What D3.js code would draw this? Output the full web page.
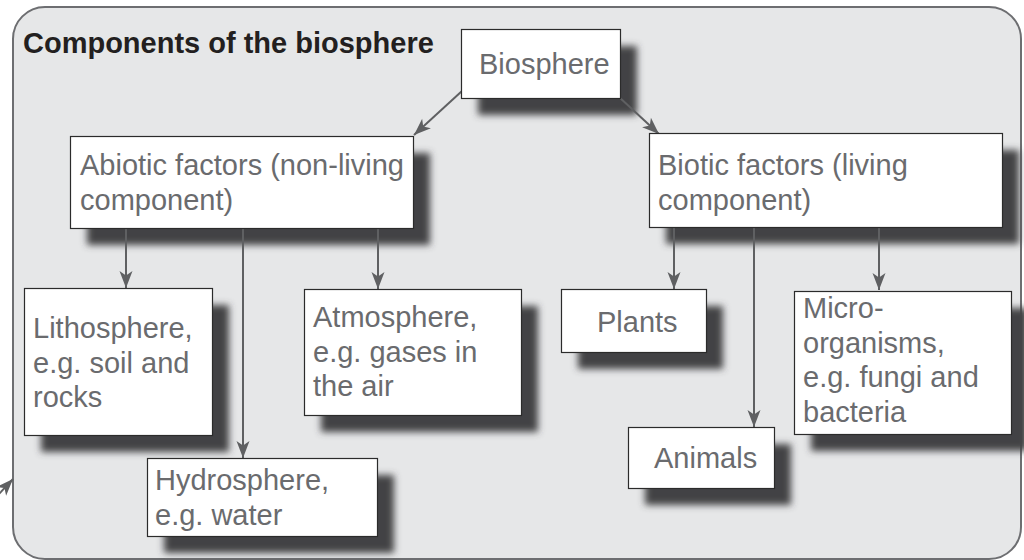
<!DOCTYPE html>
<html>
<head>
<meta charset="utf-8">
<script src="https://cdn.jsdelivr.net/npm/d3@7"></script>
<style>
  html, body { margin: 0; padding: 0; background: #ffffff; }
  svg { display: block; }
</style>
</head>
<body>
<svg id="chart" width="1024" height="560"></svg>
<script>
// ---- content ----
const title = "Components of the biosphere";
const nodeIds = ["biosphere", "abiotic", "biotic", "litho", "hydro", "atmos", "plants", "animals", "micro"];
const nodeLines = [
  ["Biosphere"],
  ["Abiotic factors (non-living", "component)"],
  ["Biotic factors (living", "component)"],
  ["Lithosphere,", "e.g. soil and", "rocks"],
  ["Hydrosphere,", "e.g. water"],
  ["Atmosphere,", "e.g. gases in", "the air"],
  ["Plants"],
  ["Animals"],
  ["Micro-", "organisms,", "e.g. fungi and", "bacteria"]
];
const edgeFrom = ["biosphere", "biosphere", "abiotic", "abiotic", "abiotic", "biotic", "biotic", "biotic"];
const edgeTo   = ["abiotic", "biotic", "litho", "hydro", "atmos", "plants", "animals", "micro"];

// ---- layout (positions only) ----
const boxLayout = {
  biosphere: {x: 461, y: 29,  w: 159, h: 69,  tx: 18, ty: 45},
  abiotic:   {x: 70,  y: 136, w: 343, h: 92,  tx: 10, ty: 39},
  biotic:    {x: 649, y: 133, w: 353, h: 94,  tx: 9,  ty: 42},
  litho:     {x: 24,  y: 288, w: 188, h: 147, tx: 9,  ty: 50},
  hydro:     {x: 147, y: 458, w: 230, h: 78,  tx: 8,  ty: 32},
  atmos:     {x: 304, y: 289, w: 217, h: 126, tx: 9,  ty: 38},
  plants:    {x: 561, y: 289, w: 145, h: 63,  tx: 36, ty: 43},
  animals:   {x: 628, y: 427, w: 146, h: 61,  tx: 26, ty: 41},
  micro:     {x: 794, y: 291, w: 217, h: 143, tx: 9,  ty: 27}
};
// arrow endpoints [x1,y1,x2,y2] per edge
const edgeLayout = [
  [462, 91, 414, 135],
  [619, 97, 659, 134],
  [126, 229, 126, 288],
  [243, 229, 243, 458],
  [378, 229, 378, 289],
  [674, 228, 674, 289],
  [754, 228, 754, 427],
  [879, 228, 879, 290]
];
const lineHeight = 34.5;

const svg = d3.select("#chart");
const defs = svg.append("defs");

const blur = defs.append("filter").attr("id", "shadowBlur")
  .attr("x", "-30%").attr("y", "-30%").attr("width", "160%").attr("height", "160%");
blur.append("feGaussianBlur").attr("stdDeviation", 3.5);

defs.append("marker")
  .attr("id", "arrow")
  .attr("markerUnits", "userSpaceOnUse")
  .attr("viewBox", "-18 -8 20 16")
  .attr("refX", 0).attr("refY", 0)
  .attr("markerWidth", 20).attr("markerHeight", 16)
  .attr("orient", "auto")
  .append("path")
  .attr("d", "M0,0 L-17,-6.5 L-12.5,0 L-17,6.5 Z")
  .attr("fill", "#5f6062");

// panel
svg.append("rect")
  .attr("x", 13).attr("y", 7).attr("width", 1008).attr("height", 552)
  .attr("rx", 32).attr("ry", 32)
  .attr("fill", "#e6e7e8")
  .attr("stroke", "#6d6e71").attr("stroke-width", 2);

// external arrow at bottom-left
svg.append("line")
  .attr("x1", -2).attr("y1", 495).attr("x2", 13).attr("y2", 479)
  .attr("stroke", "#5f6062").attr("stroke-width", 2)
  .attr("marker-end", "url(#arrow)");

// title
svg.append("text")
  .attr("x", 23).attr("y", 53)
  .attr("font-family", "Liberation Sans, Arial, Helvetica, sans-serif")
  .attr("font-weight", "bold")
  .attr("font-size", 29)
  .attr("fill", "#231f20")
  .text(title);

const nodes = nodeIds.map((id, i) => Object.assign({id, lines: nodeLines[i]}, boxLayout[id]));

// shadows
svg.append("g").selectAll("rect").data(nodes).join("rect")
  .attr("x", d => d.x + 17).attr("y", d => d.y + 17)
  .attr("width", d => d.w).attr("height", d => d.h)
  .attr("fill", "#424244")
  .attr("filter", "url(#shadowBlur)");

// arrows
svg.append("g").selectAll("line").data(edgeFrom.map((f, i) => ({f, t: edgeTo[i], p: edgeLayout[i]}))).join("line")
  .attr("x1", d => d.p[0]).attr("y1", d => d.p[1])
  .attr("x2", d => d.p[2]).attr("y2", d => d.p[3])
  .attr("stroke", "#5f6062").attr("stroke-width", 2)
  .attr("marker-end", "url(#arrow)");

// boxes
const g = svg.append("g").selectAll("g").data(nodes).join("g");
g.append("rect")
  .attr("x", d => d.x + 0.5).attr("y", d => d.y + 0.5)
  .attr("width", d => d.w).attr("height", d => d.h)
  .attr("fill", "#ffffff")
  .attr("stroke", "#2b2b2b").attr("stroke-width", 1.2);

g.append("text")
  .attr("font-family", "Liberation Sans, Arial, Helvetica, sans-serif")
  .attr("font-size", 29)
  .attr("fill", "#6a6b6e")
  .selectAll("tspan").data(d => d.lines.map((l, i) => ({l, i, d}))).join("tspan")
  .attr("x", t => t.d.x + t.d.tx)
  .attr("y", t => t.d.y + t.d.ty + t.i * lineHeight)
  .text(t => t.l);
</script>
</body>
</html>
